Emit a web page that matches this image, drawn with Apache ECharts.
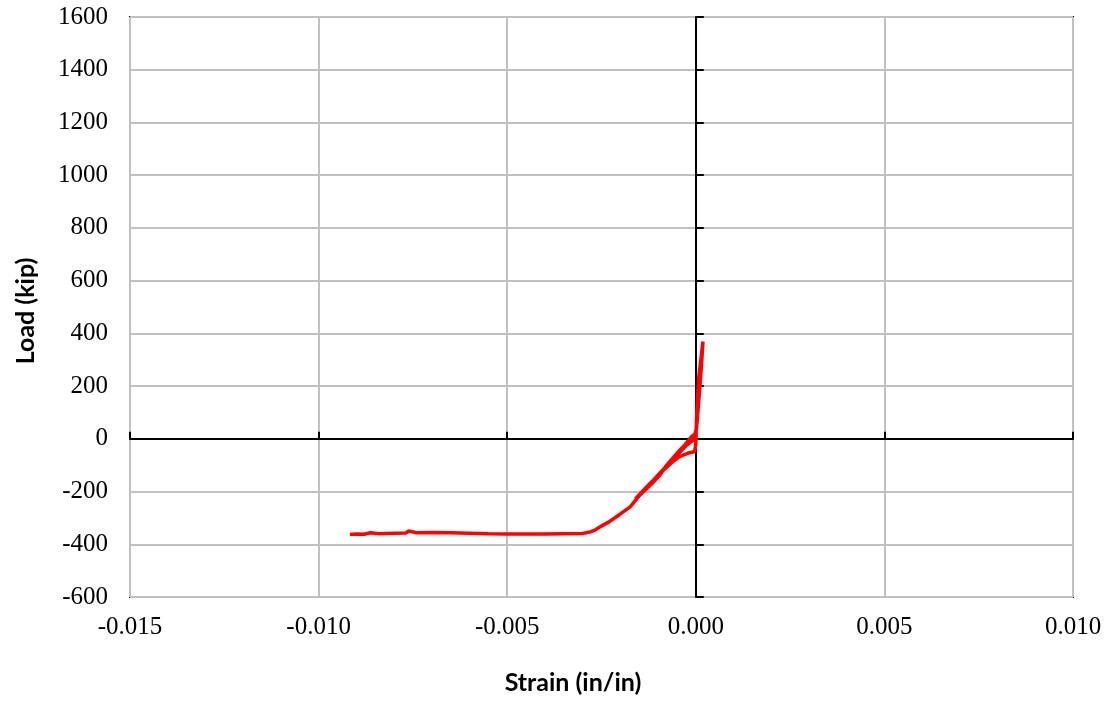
<!DOCTYPE html>
<html>
<head>
<meta charset="utf-8">
<script src="https://cdn.jsdelivr.net/npm/echarts@6/dist/echarts.min.js"></script>
<style>html,body{margin:0;padding:0;background:#fff}#c{width:1111px;height:702px}</style>
</head>
<body>
<div id="c"></div>
<script>
// Strain (in/in)
const strain = [0, 0.00002, 0.00004, 0.00007, 0.00011, 0.00015, 0.00019, 0.00016, 0.00011, 0.00006, 0.00002,
  -0.00007, -0.00025, -0.00045, -0.0007, -0.0009, -0.0012, -0.0015, -0.0016, -0.0013, -0.0009, -0.0006, -0.00044, -0.00022, -0.00003, 0.0, 0.00001,
  -0.0001, -0.00029, -0.0005, -0.0008, -0.00095, -0.0012, -0.00148, -0.00174, -0.002, -0.0023, -0.00254, -0.00266, -0.0028, -0.003,
  -0.0035, -0.004, -0.0045, -0.005, -0.0055, -0.006, -0.0065, -0.0070, -0.0074, -0.00762, -0.00768, -0.0080, -0.0084, -0.00862, -0.00866, -0.0088, -0.0090, -0.00917];
// Load (kip)
const load = [0, 70, 140, 220, 270, 320, 369, 300, 200, 110, 40,
  -5, -25, -55, -92, -122, -168, -212, -228, -182, -125, -85, -68, -55, -48, -20, 20,
  10, -23, -55, -105, -137, -175, -213, -258, -285, -315, -334, -345, -353, -359,
  -360, -361, -361, -361, -360, -358, -356, -355, -356, -350, -357, -358, -360, -356, -361, -362, -361, -363];
const xTicks = {min: -0.015, max: 0.010, interval: 0.005};
const yTicks = {min: -600, max: 1600, interval: 200};

const data = strain.map((s, i) => [s, load[i]]);
const serif = 'Liberation Serif';
const chart = echarts.init(document.getElementById('c'));
chart.setOption({
  animation: false,
  backgroundColor: '#fff',
  grid: {left: 130, right: 38, top: 17, bottom: 105, show: true, borderColor: '#000', borderWidth: 2, backgroundColor: 'transparent'},
  xAxis: [
    {type: 'value', min: xTicks.min, max: xTicks.max, interval: xTicks.interval, position: 'bottom',
     axisLine: {show: false, onZero: false}, axisTick: {show: false},
     axisLabel: {formatter: v => v.toFixed(3), fontFamily: serif, fontSize: 25, color: '#000', margin: 18},
     splitLine: {show: true, lineStyle: {color: '#c0c0c0', width: 2}}},
    {type: 'value', min: xTicks.min, max: xTicks.max, interval: xTicks.interval, position: 'bottom',
     axisLine: {show: true, onZero: true, lineStyle: {color: '#000', width: 2}},
     axisTick: {show: true, inside: true, length: 7, lineStyle: {color: '#000', width: 2}},
     axisLabel: {show: false}, splitLine: {show: false}}
  ],
  yAxis: [
    {type: 'value', min: yTicks.min, max: yTicks.max, interval: yTicks.interval, position: 'left',
     axisLine: {show: false, onZero: false}, axisTick: {show: false},
     axisLabel: {formatter: v => String(v), fontFamily: serif, fontSize: 25, color: '#000', margin: 22},
     splitLine: {show: true, lineStyle: {color: '#c0c0c0', width: 2}}},
    {type: 'value', min: yTicks.min, max: yTicks.max, interval: yTicks.interval, position: 'left',
     axisLine: {show: true, onZero: true, lineStyle: {color: '#000', width: 2}},
     axisTick: {show: true, inside: true, length: 8, lineStyle: {color: '#000', width: 2}},
     axisLabel: {show: false}, splitLine: {show: false}}
  ],
  series: [{
    type: 'line', xAxisIndex: 0, yAxisIndex: 0, data: data, showSymbol: false, symbol: 'none',
    lineStyle: {color: '#ff0000', width: 3.5}, z: 5
  }],
  graphic: [
    {type: 'text', x: 573, y: 683, style: {text: 'Strain (in/in)', font: 'bold 25px Lato', fill: '#000', textAlign: 'center', textVerticalAlign: 'middle'}},
    {type: 'text', x: 26, y: 311, rotation: Math.PI / 2, style: {text: 'Load (kip)', font: 'bold 25px Lato', fill: '#000', textAlign: 'center', textVerticalAlign: 'middle'}}
  ]
});
</script>
</body>
</html>
